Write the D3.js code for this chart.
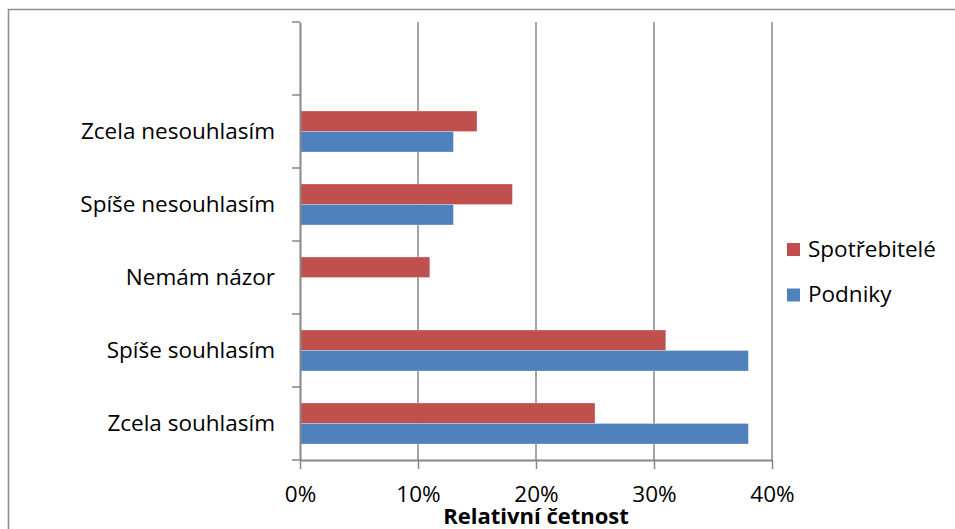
<!DOCTYPE html>
<html>
<head>
<meta charset="utf-8">
<script src="https://cdn.jsdelivr.net/npm/d3@7"></script>
<style>
  html, body { margin: 0; padding: 0; background: #fff; }
  svg { display: block; font-family: "Open Sans", Lato, sans-serif; }
</style>
</head>
<body>
<svg id="chart" width="955" height="529"></svg>
<script>
// Answer categories, bottom to top; the top slot is a blank row of the source table
const categories = ["Zcela souhlasím", "Spíše souhlasím", "Nemám názor", "Spíše nesouhlasím", "Zcela nesouhlasím", ""];
const seriesNames = ["Spotřebitelé", "Podniky"];
const spotrebitele = [0.25, 0.31, 0.11, 0.18, 0.15, null];
const podniky = [0.38, 0.38, 0, 0.13, 0.13, null];
const xTicks = [0, 0.1, 0.2, 0.3, 0.4];
const xTitle = "Relativní četnost";

const colors = { "Spotřebitelé": "#C0504D", "Podniky": "#4F81BD" };
const gridColor = "#878787";
const fontSize = 22.5;

const svg = d3.select("#chart");
const plot = { left: 300, right: 772, top: 22, bottom: 460 };

// chart frame
svg.append("path")
  .attr("d", `M8.5,529 L8.5,9.5 L955,9.5`)
  .attr("fill", "none").attr("stroke", "#8e8e8e").attr("stroke-width", 1.6);

const x = d3.scaleLinear().domain([0, 0.4]).range([plot.left, plot.right]);
const y = d3.scaleBand().domain(categories).range([plot.bottom, plot.top]).padding(0);
const inner = d3.scaleBand().domain(seriesNames).range([0, y.bandwidth()])
  .paddingInner(0).paddingOuter(0.78);

// vertical gridlines
svg.append("g").selectAll("line").data(xTicks.slice(1)).join("line")
  .attr("x1", d => x(d)).attr("x2", d => x(d))
  .attr("y1", plot.top).attr("y2", plot.bottom)
  .attr("stroke", gridColor).attr("stroke-width", 1.5);

// bars
const rows = categories.map((c, i) => ({ cat: c, vals: [
  { s: "Spotřebitelé", v: spotrebitele[i] },
  { s: "Podniky", v: podniky[i] }
]}));
const groups = svg.append("g").selectAll("g").data(rows).join("g")
  .attr("transform", d => `translate(0,${y(d.cat)})`);
groups.selectAll("rect").data(d => d.vals.filter(e => e.v)).join("rect")
  .attr("x", x(0))
  .attr("y", d => inner(d.s))
  .attr("width", d => x(d.v) - x(0))
  .attr("height", inner.bandwidth())
  .attr("fill", d => colors[d.s])
  .attr("stroke", "rgba(255,255,255,0.35)").attr("stroke-width", 0.8);

// x axis
const xAxis = svg.append("g").attr("transform", `translate(0,${plot.bottom})`)
  .call(d3.axisBottom(x).tickValues(xTicks).tickFormat(d3.format(".0%")).tickSize(9).tickSizeOuter(0).tickPadding(17));
xAxis.select(".domain").attr("stroke", gridColor).attr("stroke-width", 2);
xAxis.selectAll(".tick line").attr("stroke", gridColor).attr("stroke-width", 1.5);
xAxis.selectAll("text").attr("font-size", fontSize).attr("fill", "#000").attr("font-family", "Open Sans");

// y axis: category labels centred in bands, ticks on band edges
const yAxis = svg.append("g").attr("transform", `translate(${plot.left},0)`)
  .call(d3.axisLeft(y).tickSize(0).tickPadding(25));
yAxis.select(".domain").attr("stroke", gridColor).attr("stroke-width", 2);
yAxis.selectAll("text").attr("font-size", fontSize).attr("fill", "#000").attr("font-family", "Open Sans");
const edges = categories.map(c => y(c)).concat([plot.bottom]);
yAxis.append("g").selectAll("line").data(edges).join("line")
  .attr("x1", -8).attr("x2", 0).attr("y1", d => d).attr("y2", d => d)
  .attr("stroke", gridColor).attr("stroke-width", 1.5);

// axis title
svg.append("text")
  .attr("x", (plot.left + plot.right) / 2).attr("y", 524)
  .attr("text-anchor", "middle").attr("font-size", 22).attr("font-weight", "bold")
  .attr("fill", "#000").text(xTitle);

// legend
const legend = svg.append("g").attr("transform", "translate(787,243)");
const li = legend.selectAll("g").data(seriesNames).join("g")
  .attr("transform", (d, i) => `translate(0,${i * 45.5})`);
li.append("rect").attr("width", 13).attr("height", 13).attr("fill", d => colors[d]);
li.append("text").attr("x", 21).attr("y", 13.5).attr("font-size", fontSize).attr("fill", "#000").text(d => d);
</script>
</body>
</html>
